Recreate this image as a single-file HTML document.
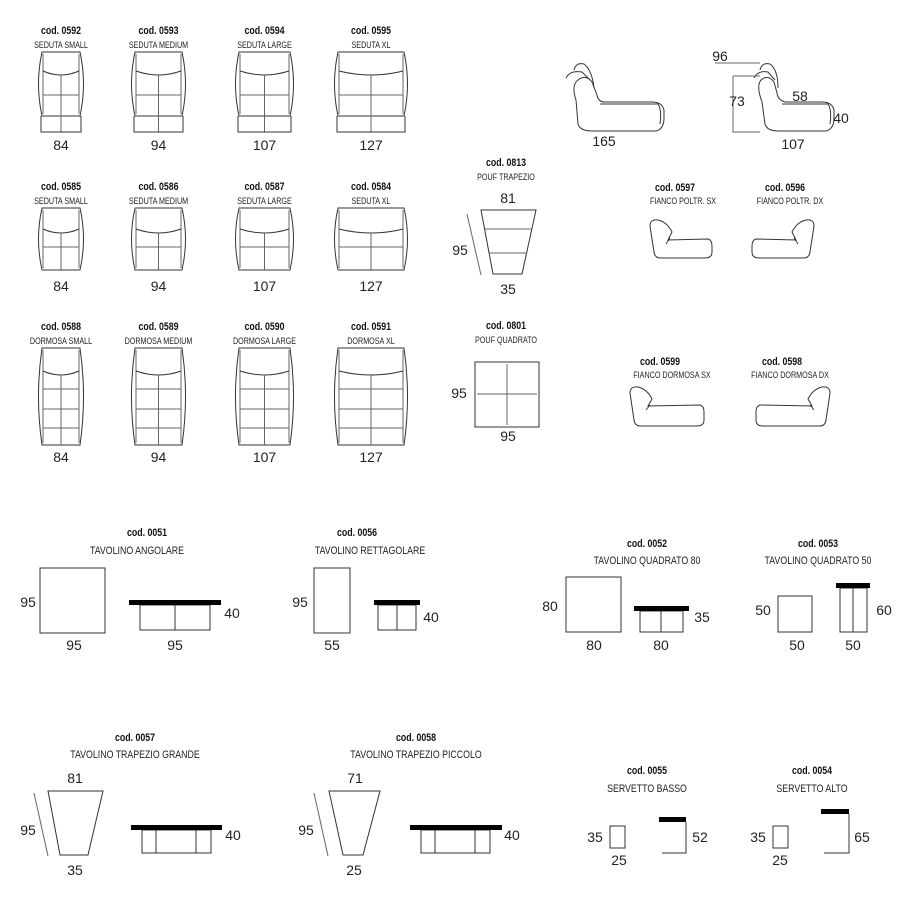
<!DOCTYPE html>
<html><head><meta charset="utf-8"><style>
html,body{margin:0;padding:0;background:#fff}
svg{display:block}
.c{font-family:"Liberation Sans Narrow","Liberation Sans",sans-serif;font-weight:bold;font-size:11px;fill:#111;text-anchor:middle}
.s{font-family:"Liberation Sans Narrow","Liberation Sans",sans-serif;font-size:9px;fill:#222;text-anchor:middle}
.t{font-family:"Liberation Sans Narrow","Liberation Sans",sans-serif;font-size:11px;fill:#222;text-anchor:middle}
.n{font-family:"Liberation Sans Narrow","Liberation Sans",sans-serif;font-size:14px;fill:#222;text-anchor:middle}
.l{fill:none;stroke:#333;stroke-width:1}
.g{fill:none;stroke:#666;stroke-width:1}
</style></head><body>
<svg id="d" width="900" height="903" viewBox="0 0 900 903" xmlns="http://www.w3.org/2000/svg">
<g class="l">
<path d="M576,100 L578,124 Q580,131 592,131 L656,131 Q664,129 664,118 L664,110 Q662,102 652,102 L605,102 Q598,102 597,95 L592,82 Q586,74 578,80 Q571,85 576,100 Z"/>
<path d="M566,78 Q570,70 582,72 L590,80 M574,70 Q576,62 584,64 Q592,70 594,88"/>
<path d="M600,104 L658,104 Q662,110 660,124"/>
<path d="M762,102 L765,124 Q767,131 778,131 L826,131 Q834,129 834,118 L834,110 Q832,102 822,102 L785,102 Q778,100 777,93 L774,82 Q768,74 761,80 Q756,86 762,102 Z"/>
<path d="M754,78 Q758,70 768,72 L775,80 M760,70 Q762,62 770,64 Q778,70 778,88"/>
<path d="M782,104 L828,104 Q832,110 830,124"/>
</g>
<g class="g">
<path d="M715,63 L760,63 M733,76 L760,76 M733,76 L733,132 L760,132"/>
</g>
<text class="n" x="604" y="146">165</text>
<text class="n" x="720" y="61">96</text>
<text class="n" x="737" y="106">73</text>
<text class="n" x="800" y="101">58</text>
<text class="n" x="841" y="123">40</text>
<text class="n" x="793" y="149">107</text>

<text class="c" x="675" y="191">cod. 0597</text><text class="s" x="683" y="204">FIANCO POLTR. SX</text>
<text class="c" x="785" y="191">cod. 0596</text><text class="s" x="790" y="204">FIANCO POLTR. DX</text>
<text class="c" x="660" y="365">cod. 0599</text><text class="s" x="672" y="378">FIANCO DORMOSA SX</text>
<text class="c" x="782" y="365">cod. 0598</text><text class="s" x="790" y="378">FIANCO DORMOSA DX</text>
<g class="l">
<path d="M650,226 Q650,219 658,220 Q667,222 672,232 L668,240 L708,239 Q712,240 712,246 L712,252 Q712,258 705,258 L660,258 Q655,258 654,252 Z M666,244 L670,238"/>
<path d="M814,226 Q814,219 806,220 Q797,222 792,232 L796,240 L756,239 Q752,240 752,246 L752,252 Q752,258 759,258 L804,258 Q809,258 810,252 Z M798,244 L794,238"/>
<path d="M630,393 Q630,386 638,387 Q647,389 652,399 L648,406 L700,405 Q704,406 704,412 L704,420 Q704,426 697,426 L640,426 Q635,426 634,420 Z M646,410 L650,405"/>
<path d="M830,393 Q830,386 822,387 Q813,389 808,399 L812,406 L760,405 Q756,406 756,412 L756,420 Q756,426 763,426 L820,426 Q825,426 826,420 Z M814,410 L810,405"/>
</g>

<text class="c" x="506" y="166">cod. 0813</text><text class="s" x="506" y="180">POUF TRAPEZIO</text>
<text class="n" x="508" y="203">81</text>
<g class="l"><path d="M481,210 L536,210 L522,274 L493,274 Z"/></g>
<g class="g"><path d="M485,229 L532,229 M489,253 L527,253 M467,214 L481,275"/></g>
<text class="n" x="460" y="255">95</text><text class="n" x="508" y="294">35</text>
<text class="c" x="506" y="329">cod. 0801</text><text class="s" x="506" y="343">POUF QUADRATO</text>
<g class="l"><rect x="475" y="362" width="64" height="65"/></g>
<g class="g"><path d="M507,364 L507,425 M477,394 L537,394"/></g>
<text class="n" x="459" y="398">95</text><text class="n" x="508" y="441">95</text>

<text class="c" x="147" y="536">cod. 0051</text><text class="t" x="137" y="554">TAVOLINO ANGOLARE</text>
<g class="l"><rect x="40" y="568" width="65" height="65"/><rect x="140" y="605" width="70" height="25"/><path d="M175,605 L175,630"/></g>
<rect x="129" y="600" width="92" height="5" fill="#000"/>
<text class="n" x="28" y="607">95</text><text class="n" x="74" y="650">95</text><text class="n" x="175" y="650">95</text><text class="n" x="232" y="618">40</text>

<text class="c" x="357" y="536">cod. 0056</text><text class="t" x="370" y="554">TAVOLINO RETTAGOLARE</text>
<g class="l"><rect x="314" y="568" width="36" height="65"/><rect x="378" y="605" width="38" height="25"/><path d="M397,605 L397,630"/></g>
<rect x="374" y="600" width="46" height="5" fill="#000"/>
<text class="n" x="300" y="607">95</text><text class="n" x="332" y="650">55</text><text class="n" x="431" y="622">40</text>

<text class="c" x="647" y="547">cod. 0052</text><text class="t" x="647" y="564">TAVOLINO QUADRATO 80</text>
<g class="l"><rect x="566" y="577" width="55" height="55"/><rect x="640" y="611" width="43" height="21"/><path d="M661,611 L661,632"/></g>
<rect x="634" y="606" width="55" height="5" fill="#000"/>
<text class="n" x="550" y="611">80</text><text class="n" x="594" y="650">80</text><text class="n" x="661" y="650">80</text><text class="n" x="702" y="622">35</text>

<text class="c" x="818" y="547">cod. 0053</text><text class="t" x="818" y="564">TAVOLINO QUADRATO 50</text>
<g class="l"><rect x="778" y="596" width="34" height="36"/><rect x="840" y="588" width="27" height="44"/><path d="M853,588 L853,632"/></g>
<rect x="836" y="583" width="34" height="5" fill="#000"/>
<text class="n" x="763" y="615">50</text><text class="n" x="797" y="650">50</text><text class="n" x="853" y="650">50</text><text class="n" x="884" y="615">60</text>

<text class="c" x="135" y="741">cod. 0057</text><text class="t" x="135" y="758">TAVOLINO TRAPEZIO GRANDE</text>
<g class="l"><path d="M48,791 L103,791 L88,855 L60,855 Z"/><rect x="142" y="830" width="69" height="23"/><path d="M156,830 L156,853 M196,830 L196,853"/></g>
<g class="g"><path d="M34,793 L48,856"/></g>
<rect x="131" y="825" width="91" height="5" fill="#000"/>
<text class="n" x="75" y="783">81</text><text class="n" x="75" y="875">35</text><text class="n" x="28" y="835">95</text><text class="n" x="233" y="840">40</text>

<text class="c" x="416" y="741">cod. 0058</text><text class="t" x="416" y="758">TAVOLINO TRAPEZIO PICCOLO</text>
<g class="l"><path d="M329,791 L380,791 L363,855 L343,855 Z"/><rect x="421" y="830" width="69" height="23"/><path d="M435,830 L435,853 M475,830 L475,853"/></g>
<g class="g"><path d="M314,793 L328,856"/></g>
<rect x="410" y="825" width="92" height="5" fill="#000"/>
<text class="n" x="355" y="783">71</text><text class="n" x="354" y="875">25</text><text class="n" x="306" y="835">95</text><text class="n" x="512" y="840">40</text>

<text class="c" x="647" y="774">cod. 0055</text><text class="t" x="647" y="792">SERVETTO BASSO</text>
<g class="l"><rect x="610" y="826" width="15" height="22"/><path d="M686,822 L686,853 L662,853"/></g>
<rect x="659" y="817" width="27" height="5" fill="#000"/>
<text class="n" x="595" y="842">35</text><text class="n" x="619" y="865">25</text><text class="n" x="700" y="842">52</text>

<text class="c" x="812" y="774">cod. 0054</text><text class="t" x="812" y="792">SERVETTO ALTO</text>
<g class="l"><rect x="773" y="826" width="15" height="22"/><path d="M849,814 L849,853 L824,853"/></g>
<rect x="821" y="809" width="28" height="5" fill="#000"/>
<text class="n" x="758" y="842">35</text><text class="n" x="780" y="865">25</text><text class="n" x="862" y="842">65</text>
</svg>
<script>
(function(){
var svg=document.getElementById('d'),NS='http://www.w3.org/2000/svg';
function el(tag,attrs,txt){var e=document.createElementNS(NS,tag);for(var k in attrs)e.setAttribute(k,attrs[k]);if(txt)e.textContent=txt;svg.appendChild(e);return e;}
var cols=[[38,84],[131,186],[235,294],[334,408]];
var nums=['84','94','107','127'];
var rows=[
 {codes:['0592','0593','0594','0595'],sub:['SEDUTA SMALL','SEDUTA MEDIUM','SEDUTA LARGE','SEDUTA XL'],ly:34,y0:52,y1:116,base:132,curve:71,h:[95],ny:150},
 {codes:['0585','0586','0587','0584'],sub:['SEDUTA SMALL','SEDUTA MEDIUM','SEDUTA LARGE','SEDUTA XL'],ly:190,y0:208,y1:270,base:0,curve:229,h:[247],ny:291},
 {codes:['0588','0589','0590','0591'],sub:['DORMOSA SMALL','DORMOSA MEDIUM','DORMOSA LARGE','DORMOSA XL'],ly:330,y0:348,y1:445,base:0,curve:371,h:[389,409,428],ny:462}
];
rows.forEach(function(r){
 cols.forEach(function(c,i){
  var x0=c[0],x1=c[1],cx=(x0+x1)/2,a=r.y0,b=r.y1;
  el('text',{'class':'c',x:cx,y:r.ly},'cod. '+r.codes[i]);
  el('text',{'class':'s',x:cx,y:r.ly+14},r.sub[i]);
  el('text',{'class':'n',x:cx,y:r.ny},nums[i]);
  var d='M'+(x0+4)+','+a+' L'+(x1-4)+','+a+' Q'+(x1+3)+','+((a+b)/2)+' '+(x1-4)+','+b+' L'+(x0+4)+','+b+' Q'+(x0-3)+','+((a+b)/2)+' '+(x0+4)+','+a+' Z';
  el('path',{d:d,'class':'l'});
  el('path',{d:'M'+(x0+5)+','+(a+2)+' L'+(x0+5)+','+(b-2)+' M'+(x1-5)+','+(a+2)+' L'+(x1-5)+','+(b-2),'class':'g'});
  el('path',{d:'M'+(x0+5)+','+r.curve+' Q'+cx+','+(r.curve+8)+' '+(x1-5)+','+r.curve,'class':'l'});
  var bot=r.base?r.base:b;
  var g='M'+cx+','+(r.curve+4)+' L'+cx+','+bot;
  r.h.forEach(function(h){g+=' M'+(x0+5)+','+h+' L'+(x1-5)+','+h;});
  el('path',{d:g,'class':'g'});
  if(r.base){el('path',{d:'M'+(x0+3)+','+b+' L'+(x0+3)+','+r.base+' L'+(x1-3)+','+r.base+' L'+(x1-3)+','+b,'class':'l'});}
 });
});
var k=0.8;
var ts=svg.querySelectorAll('text.c,text.s,text.t');
for(var i=0;i<ts.length;i++){var t=ts[i];t.setAttribute('x',parseFloat(t.getAttribute('x'))/k);t.setAttribute('transform','scale('+k+',1)');}
})();
</script>
</body></html>
